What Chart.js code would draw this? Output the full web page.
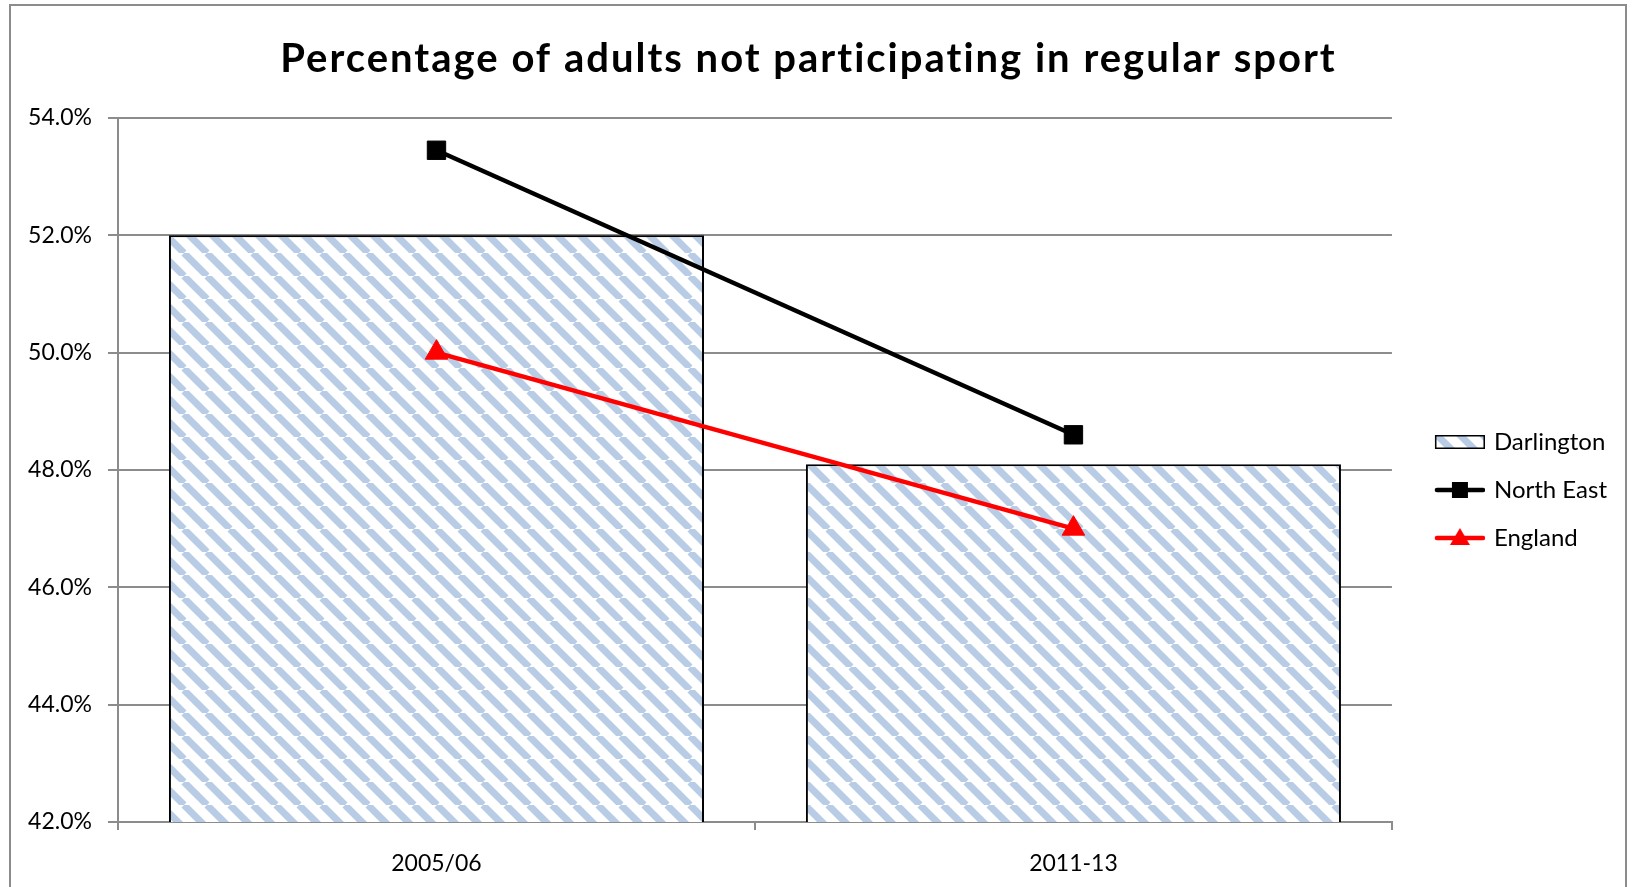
<!DOCTYPE html>
<html>
<head>
<meta charset="utf-8">
<title>Percentage of adults not participating in regular sport</title>
<script src="https://cdn.jsdelivr.net/npm/chart.js@4.4.1/dist/chart.umd.min.js"></script>
<style>
  html, body { margin: 0; padding: 0; background: #fff; }
  #wrap { position: relative; width: 1635px; height: 887px; overflow: hidden; }
  #frame { position: absolute; left: 9px; top: 4px; width: 1614px; height: 900px; border: 2px solid #8c8c8c; pointer-events: none; }
  canvas { display: block; }
</style>
</head>
<body>
<div id="wrap">
  <canvas id="chart" width="1635" height="887"></canvas>
  <div id="frame"></div>
</div>
<script>
const categories = ['2005/06', '2011-13'];
const darlington = [52.0, 48.1];
const northEast = [53.45, 48.6];
const england = [50.0, 47.0];
const yTicks = [42, 44, 46, 48, 50, 52, 54];

const gridGrey = '#8c8c8c';
const hatchBlue = '#b9cce5';

// diagonal hatch used for the Darlington bars
function makeHatch(ctx) {
    const p = 23;
    const tile = document.createElement('canvas');
    tile.width = p;
    tile.height = p;
    const t = tile.getContext('2d');
    t.fillStyle = '#fff';
    t.fillRect(0, 0, p, p);
    t.strokeStyle = hatchBlue;
    t.lineWidth = 7;
    for (let k = -1; k <= 1; k++) {
        t.beginPath();
        t.moveTo(k * p, 0);
        t.lineTo(k * p + p, p);
        t.stroke();
    }
    return ctx.createPattern(tile, 'repeat');
}

// legend icons: the symbol sits in the right 50px of the image
const iconW = 72, iconPad = 22, iconBox = 66;

function barIcon() {
    const c = document.createElement('canvas');
    c.width = iconW; c.height = 16;
    const g = c.getContext('2d');
    g.fillStyle = makeHatch(g);
    g.fillRect(iconPad + 1, 2, iconW - iconPad - 2, 12);
    g.strokeStyle = '#000';
    g.lineWidth = 1.5;
    g.strokeRect(iconPad + 0.75, 1.75, iconW - iconPad - 1.5, 12.5);
    return c;
}

function lineIcon(color, marker) {
    const c = document.createElement('canvas');
    c.width = iconW; c.height = 22;
    const g = c.getContext('2d');
    const cx = iconPad + (iconW - iconPad) / 2, cy = 11;
    g.strokeStyle = color;
    g.fillStyle = color;
    g.lineWidth = 4.5;
    g.lineCap = 'round';
    g.beginPath();
    g.moveTo(iconPad + 2, cy);
    g.lineTo(iconW - 2, cy);
    g.stroke();
    g.beginPath();
    if (marker === 'rect') {
        g.rect(cx - 8, cy - 8, 16, 16);
    } else {
        g.moveTo(cx, cy - 10);
        g.lineTo(cx + 10, cy + 7);
        g.lineTo(cx - 10, cy + 7);
        g.closePath();
    }
    g.fill();
    return c;
}

const legendIcons = [barIcon(), lineIcon('#000', 'rect'), lineIcon('#ff0000', 'triangle')];

// wider letter spacing for the title only, like the original rendering
const titleSpacing = {
    id: 'titleSpacing',
    beforeDraw(chart) {
        const block = chart.titleBlock;
        if (block && !block._spaced) {
            const draw = block.draw;
            block.draw = function () {
                const c = this.ctx;
                c.letterSpacing = '2px';
                draw.apply(this, arguments);
                c.letterSpacing = '0px';
            };
            block._spaced = true;
        }
    }
};

const ctx = document.getElementById('chart');
const hatch = makeHatch(ctx.getContext('2d'));
const defaultLabels = Chart.defaults.plugins.legend.labels.generateLabels;

new Chart(ctx, {
    type: 'bar',
    data: {
        labels: categories,
        datasets: [{
            label: 'Darlington',
            data: darlington,
            backgroundColor: hatch,
            borderColor: '#000',
            borderWidth: 2,
            barPercentage: 1,
            categoryPercentage: 0.84,
            order: 2
        },
        {
            type: 'line',
            label: 'North East',
            data: northEast,
            borderColor: '#000',
            backgroundColor: '#000',
            borderWidth: 4.5,
            pointStyle: 'rect',
            pointRadius: 13,
            pointBorderWidth: 1,
            tension: 0,
            fill: false,
            order: 1
        },
        {
            type: 'line',
            label: 'England',
            data: england,
            borderColor: '#ff0000',
            backgroundColor: '#ff0000',
            borderWidth: 4.5,
            pointStyle: 'triangle',
            pointRadius: 13,
            pointBorderWidth: 1,
            tension: 0,
            fill: false,
            order: 0
        }]
    },
    options: {
        responsive: false,
        animation: false,
        layout: {
            padding: { top: 0, left: 0, bottom: 0, right: 18 }
        },
        scales: {
            x: {
                grid: {
                    offset: true,
                    drawOnChartArea: false,
                    tickLength: 8,
                    color: gridGrey,
                    lineWidth: 2
                },
                border: { color: gridGrey, width: 2 },
                ticks: {
                    color: '#000',
                    padding: 20,
                    font: { family: 'Lato', size: 23 }
                },
                afterFit: s => { s.height = 65; }
            },
            y: {
                min: yTicks[0],
                max: yTicks[yTicks.length - 1],
                afterBuildTicks: s => { s.ticks = yTicks.map(v => ({ value: v })); },
                grid: {
                    tickLength: 10,
                    color: gridGrey,
                    lineWidth: 2
                },
                border: { color: gridGrey, width: 2 },
                ticks: {
                    color: '#000',
                    padding: 16,
                    font: { family: 'Lato', size: 23 },
                    callback: v => v.toFixed(1) + '%'
                },
                afterFit: s => { s.width = 118; }
            }
        },
        plugins: {
            title: {
                display: true,
                text: 'Percentage of adults not participating in regular sport',
                color: '#000',
                font: { family: 'Lato', size: 40, weight: 'bold' },
                padding: { top: 35, bottom: 35 }
            },
            legend: {
                position: 'right',
                fullSize: false,
                title: {
                    display: true,
                    text: '',
                    font: { size: 10 },
                    padding: { top: 14, bottom: 14 }
                },
                labels: {
                    usePointStyle: true,
                    pointStyleWidth: iconBox,
                    padding: 24,
                    color: '#000',
                    font: { family: 'Lato', size: 24 },
                    sort: (a, b) => a.datasetIndex - b.datasetIndex,
                    generateLabels: chart => defaultLabels(chart).map(item =>
                        Object.assign(item, { pointStyle: legendIcons[item.datasetIndex] }))
                }
            },
            tooltip: { enabled: false }
        }
    },
    plugins: [titleSpacing]
});
</script>
</body>
</html>
